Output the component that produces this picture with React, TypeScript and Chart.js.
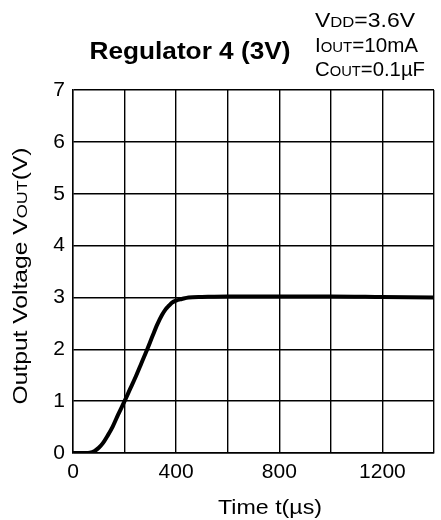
import React, { useEffect, useRef } from "react";
import { Chart, registerables } from "chart.js";

Chart.register(...registerables);

const timeUs = [0, 50, 65, 84, 100, 116, 135, 154, 175, 200, 222, 244, 266, 288, 308, 327, 345, 359, 372, 384, 400, 422, 448, 500, 600, 800, 1000, 1200, 1400];
const voutV = [0, 0, 0.005, 0.04, 0.1, 0.19, 0.34, 0.51, 0.74, 1.0, 1.24, 1.48, 1.74, 2.0, 2.25, 2.48, 2.66, 2.77, 2.84, 2.9, 2.94, 2.97, 3.0, 3.01, 3.02, 3.02, 3.02, 3.01, 3.0];

const titleText = "Regulator 4 (3V)";
const xTitle = "Time t(µs)";
const yTitleParts = [
  { t: "Output Voltage V", small: false },
  { t: "OUT", small: true },
  { t: "(V)", small: false },
];
const conditions = [
  [{ t: "V", small: false }, { t: "DD", small: true }, { t: "=3.6V", small: false }],
  [{ t: "I", small: false }, { t: "OUT", small: true }, { t: "=10mA", small: false }],
  [{ t: "C", small: false }, { t: "OUT", small: true }, { t: "=0.1µF", small: false }],
];

const FONT = "'Liberation Sans', Arial, sans-serif";

type Part = { t: string; small: boolean };

function drawParts(
  ctx: CanvasRenderingContext2D,
  parts: Part[],
  x: number,
  y: number,
  size: number,
  smallSize: number,
  align: "left" | "center",
  targetWidth: number,
  weight = ""
) {
  let total = 0;
  for (const p of parts) {
    ctx.font = `${weight} ${p.small ? smallSize : size}px ${FONT}`;
    total += ctx.measureText(p.t).width;
  }
  const sx = targetWidth > 0 ? targetWidth / total : 1;
  ctx.save();
  ctx.translate(x, y);
  ctx.scale(sx, 1);
  let cx = align === "center" ? -total / 2 : 0;
  ctx.textAlign = "left";
  ctx.textBaseline = "alphabetic";
  for (const p of parts) {
    ctx.font = `${weight} ${p.small ? smallSize : size}px ${FONT}`;
    ctx.fillText(p.t, cx, 0);
    cx += ctx.measureText(p.t).width;
  }
  ctx.restore();
}

const textPlugin = {
  id: "customText",
  afterDraw(chart: any) {
    const ctx: CanvasRenderingContext2D = chart.ctx;
    ctx.save();
    ctx.fillStyle = "#000";
    drawParts(ctx, [{ t: titleText, small: false }], 190, 59, 23, 23, "center", 201, "bold");

    const condWidths = [100, 103, 110];
    conditions.forEach((line, i) => {
      drawParts(ctx, line, 315, 27 + i * 24.5, 20, 14.5, "left", condWidths[i]);
    });

    drawParts(ctx, [{ t: xTitle, small: false }], 270, 514, 21, 21, "center", 104);

    ctx.translate(27, 276);
    ctx.rotate(-Math.PI / 2);
    drawParts(ctx, yTitleParts, 0, 0, 20.5, 15, "center", 257);
    ctx.restore();
  },
};

export default function App() {
  const ref = useRef<HTMLCanvasElement | null>(null);
  useEffect(() => {
    document.body.style.margin = "0";
    const canvas = ref.current!;
    const chart = new Chart(canvas, {
      type: "line",
      data: {
        datasets: [
          {
            data: timeUs.map((t, i) => ({ x: t, y: voutV[i] })),
            borderColor: "#000",
            borderWidth: 4,
            pointRadius: 0,
            cubicInterpolationMode: "monotone",
            fill: false,
          },
        ],
      },
      options: {
        animation: false,
        responsive: false,
        maintainAspectRatio: false,
        layout: { padding: { top: 90, right: 2, left: 0, bottom: 0 } },
        plugins: { legend: { display: false }, tooltip: { enabled: false }, title: { display: false } },
        scales: {
          x: {
            type: "linear",
            min: 0,
            max: 1400,
            afterFit: (s: any) => { s.height = 67; },
            ticks: {
              stepSize: 200,
              autoSkip: false,
              maxRotation: 0,
              color: "#000",
              font: { family: FONT, size: 21 },
              padding: 7,
              callback: (v: any) => (Number(v) % 400 === 0 ? String(v) : ""),
            },
            grid: { color: "#000", lineWidth: 1.4, drawTicks: false },
            border: { color: "#000", width: 1.4 },
          },
          y: {
            min: 0,
            max: 7,
            afterFit: (s: any) => { s.width = 73; },
            ticks: {
              stepSize: 1,
              color: "#000",
              font: { family: FONT, size: 21 },
              padding: 8,
            },
            grid: { color: "#000", lineWidth: 1.4, drawTicks: false },
            border: { color: "#000", width: 1.4 },
          },
        },
      },
      plugins: [textPlugin],
    } as any);
    return () => chart.destroy();
  }, []);
  return <canvas ref={ref} width={441} height={520} style={{ display: "block" }} />;
}
